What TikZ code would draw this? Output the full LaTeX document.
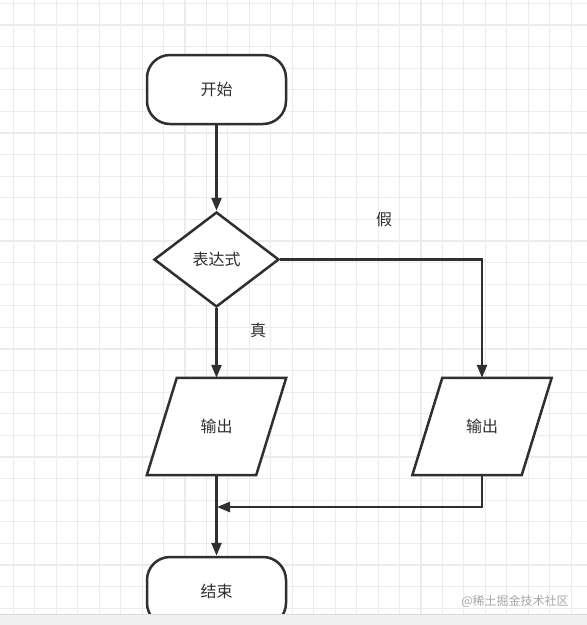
\documentclass[tikz,border=0pt]{standalone}
\usepackage{fontspec}
\newfontfamily\cjk{Noto Sans CJK SC}
\usetikzlibrary{shapes.geometric,arrows.meta,calc}
\definecolor{ink}{HTML}{2F2F2F}
\definecolor{gridc}{HTML}{EBEBEB}
\tikzset{
  term/.style={draw=ink,line width=2.5pt,fill=white,rounded corners=23pt,minimum width=139pt,minimum height=69pt,inner sep=0pt},
  decis/.style={draw=ink,line width=2.5pt,fill=white,diamond,minimum width=125pt,minimum height=95pt,inner sep=0pt},
  io/.style={rectangle,minimum width=139pt,minimum height=97pt,inner sep=0pt},
  para/.style={draw=ink,line width=2.5pt,fill=white,line join=miter},
  arr/.style={draw=ink,line width=2.5pt,-{Triangle[length=13pt,width=10pt]}},
  lbl/.style={font=\cjk\fontsize{16}{18}\selectfont,text=ink},
}
\begin{document}
\begin{tikzpicture}[x=1pt,y=-1pt]
\useasboundingbox (0,0) rectangle (587,625);
\fill[white] (0,0) rectangle (587,625);
% grid
\foreach \i in {0,...,27} {
  \pgfmathsetmacro{\xx}{13.4+21.45*\i}
  \draw[gridc,line width=1.1pt] (\xx,0) -- (\xx,625);
}
\foreach \j in {0,...,29} {
  \pgfmathsetmacro{\yy}{3.4+21.6*\j}
  \draw[gridc,line width=1.1pt] (0,\yy) -- (587,\yy);
}
% nodes
\node[term,lbl] (start) at (216.5,89.5) {开始};
\node[decis,lbl] (dec) at (216.5,259.5) {表达式};
\node[io] (out1) at (216.5,426.5) {};
\node[io] (out2) at (482,426.5) {};
\foreach \n in {out1,out2} {
  \draw[para] ($(\n.north west)+(30,0)$) -- (\n.north east) -- ($(\n.south east)+(-30,0)$) -- (\n.south west) -- cycle;
}
\node[lbl] (out1t) at (out1) {输出};
\node[lbl] (out2t) at (out2) {输出};
\node[term,lbl] (end) at (216.5,591.5) {结束};
\node[lbl] (f) at (384,219) {假};
\node[lbl] (t) at (258,330) {真};
\coordinate (m) at (217,507);
% connectors
\draw[arr] (start.south) -- (dec.north);
\draw[arr] (dec.east) -| (out2.north);
\draw[arr] (dec.south) -- (out1.north);
\draw[arr] (out1.south) -- (end.north);
\draw[arr] (out2.south) |- (m);
% watermark
\node[font=\cjk\fontsize{12}{14}\selectfont,text=black!35] (wm) at (515,601) {@稀土掘金技术社区};
% bottom band
\fill[black!6] (0,614) rectangle (587,625);
\draw[black!15,line width=0.8pt] (0,614) -- (587,614);
\end{tikzpicture}
\end{document}
